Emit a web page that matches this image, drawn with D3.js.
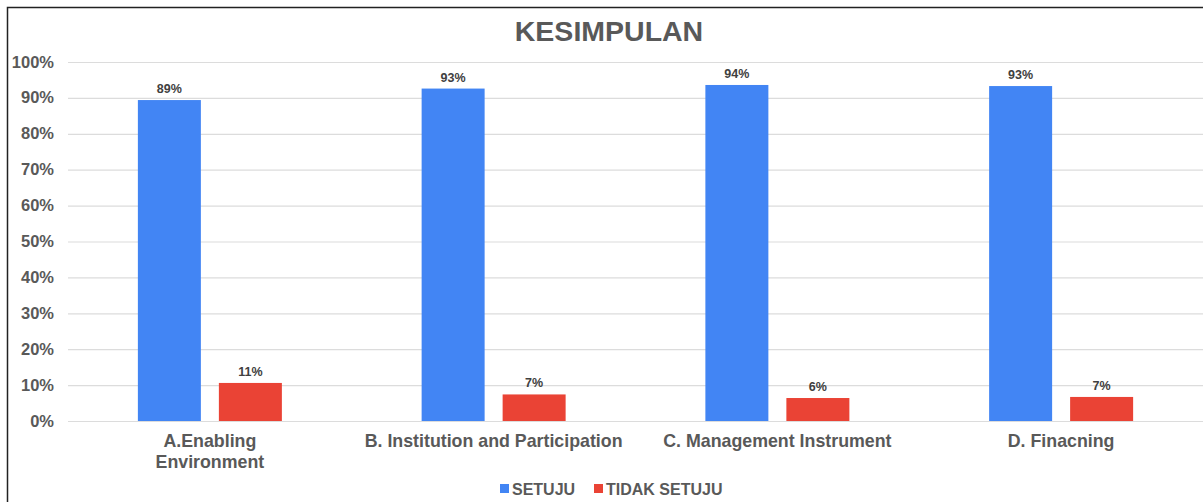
<!DOCTYPE html>
<html>
  <body style="margin:0">
    <style>
      body { background: #fff; }
      text { font-family: "Liberation Sans", Arial, sans-serif; font-weight: bold; }
    </style>
    <script src="https://d3js.org/d3.v7.min.js"></script>
    <script type="text/javascript">
      // KESIMPULAN grouped bar chart
      const width = 1203;
      const height = 502;

      const categories = [
        ['A.Enabling', 'Environment'],
        ['B. Institution and Participation'],
        ['C. Management Instrument'],
        ['D. Finacning']
      ];
      const setuju = [89.4, 92.6, 93.6, 93.3];
      const tidakSetuju = [10.6, 7.4, 6.4, 6.7];
      const seriesNames = ['SETUJU', 'TIDAK SETUJU'];
      const colors = ['#4285f4', '#ea4335'];
      const yTicks = [0, 10, 20, 30, 40, 50, 60, 70, 80, 90, 100];

      const margin = { top: 62, right: 0, bottom: 81, left: 68 };

      const svg = d3.select('body')
        .append('svg')
        .attr('width', width)
        .attr('height', height);

      // outer frame (top and left edges visible)
      svg.append('path')
        .attr('d', `M7.5,${height} V7.5 H${width}`)
        .attr('fill', 'none')
        .attr('stroke', '#222')
        .attr('stroke-width', 1.5);

      svg.append('text')
        .attr('x', 609)
        .attr('y', 41)
        .attr('text-anchor', 'middle')
        .attr('font-size', 28.5)
        .attr('fill', '#595959')
        .text('KESIMPULAN');

      const x = d3.scaleBand()
        .domain(d3.range(categories.length))
        .range([margin.left, width - margin.right]);

      const y = d3.scaleLinear()
        .domain([0, 100])
        .range([height - margin.bottom, margin.top]);

      // gridlines
      svg.append('g')
        .selectAll('line')
        .data(yTicks)
        .join('line')
        .attr('x1', margin.left)
        .attr('x2', width)
        .attr('y1', (d) => y(d) + 0.5)
        .attr('y2', (d) => y(d) + 0.5)
        .attr('stroke', '#dcdcdc')
        .attr('stroke-width', 1.2);

      svg.append('g')
        .selectAll('text')
        .data(yTicks)
        .join('text')
        .attr('x', 54)
        .attr('y', (d) => y(d) + 5.5)
        .attr('text-anchor', 'end')
        .attr('font-size', 16.5)
        .attr('fill', '#595959')
        .text((d) => d + '%');

      const barWidth = 63;
      const barGap = 18;
      const groupOffset = (x.bandwidth() - (2 * barWidth + barGap)) / 2;

      const series = [setuju, tidakSetuju];
      series.forEach((values, s) => {
        const g = svg.append('g');
        const bx = (i) => x(i) + groupOffset + s * (barWidth + barGap);
        g.selectAll('rect')
          .data(values)
          .join('rect')
          .attr('x', (d, i) => bx(i))
          .attr('y', (d) => y(d))
          .attr('width', barWidth)
          .attr('height', (d) => y(0) - y(d))
          .attr('fill', colors[s]);
        g.selectAll('text')
          .data(values)
          .join('text')
          .attr('x', (d, i) => bx(i) + barWidth / 2)
          .attr('y', (d) => y(d) - 7)
          .attr('text-anchor', 'middle')
          .attr('font-size', 12.5)
          .attr('fill', '#404040')
          .text((d) => Math.round(d) + '%');
      });

      // category labels
      const catG = svg.append('g');
      categories.forEach((lines, i) => {
        const t = catG.append('text')
          .attr('x', x(i) + x.bandwidth() / 2)
          .attr('y', 447)
          .attr('text-anchor', 'middle')
          .attr('font-size', 17.8)
          .attr('fill', '#595959');
        lines.forEach((line, j) => {
          t.append('tspan')
            .attr('x', x(i) + x.bandwidth() / 2)
            .attr('dy', j === 0 ? 0 : 21)
            .text(line);
        });
      });

      // legend
      const legend = svg.append('g');
      const legendX = [500, 594];
      seriesNames.forEach((name, s) => {
        legend.append('rect')
          .attr('x', legendX[s])
          .attr('y', 484)
          .attr('width', 9)
          .attr('height', 9)
          .attr('fill', colors[s]);
        legend.append('text')
          .attr('x', legendX[s] + 12)
          .attr('y', 495)
          .attr('font-size', 16)
          .attr('fill', '#595959')
          .text(name);
      });
    </script>
  </body>
</html>
